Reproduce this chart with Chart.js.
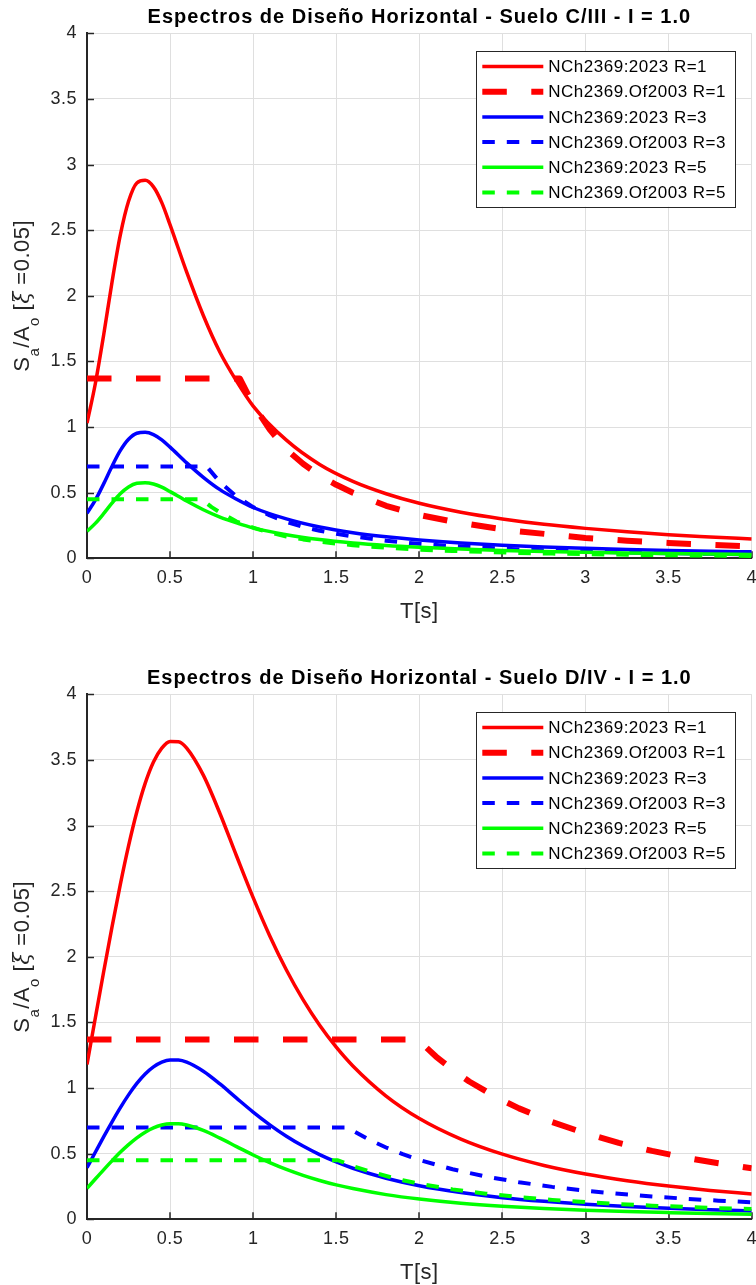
<!DOCTYPE html>
<html><head><meta charset="utf-8">
<script src="https://cdn.jsdelivr.net/npm/chart.js@4.4.0/dist/chart.umd.min.js"></script>
<style>
html,body{margin:0;padding:0;background:#fff;}
#wrap{position:relative;width:756px;height:1285px;overflow:hidden;}
.c{position:absolute;left:0;width:756px;}
#c1{top:0;height:661px;}
#c2{top:661px;height:624px;}
</style></head><body>
<div id="wrap"><div class="c" id="c1"><canvas id="chart1"></canvas></div><div class="c" id="c2"><canvas id="chart2"></canvas></div></div>
<script>
// ---------- DATA ----------
const TITLE_C = 'Espectros de Diseño Horizontal - Suelo C/III - I = 1.0';
const TITLE_D = 'Espectros de Diseño Horizontal - Suelo D/IV - I = 1.0';
const SERIES_LABELS = ['NCh2369:2023 R=1','NCh2369.Of2003 R=1','NCh2369:2023 R=3','NCh2369.Of2003 R=3','NCh2369:2023 R=5','NCh2369.Of2003 R=5'];
const AXIS_TICKS = [0,0.5,1,1.5,2,2.5,3,3.5,4];
const X_TITLE = 'T[s]';

// Suelo C/III — NCh2369:2023
const T_C_2023 = [0,0.05,0.1,0.15,0.2,0.25,0.3,0.35,0.4,0.45,0.5,0.6,0.7,0.8,0.9,1.0,1.2,1.4,1.6,1.8,2.0,2.25,2.5,2.75,3.0,3.25,3.5,3.75,4.0];
const C_2023_R1 = [1.03,1.33,1.70,2.10,2.46,2.72,2.86,2.88,2.83,2.71,2.54,2.18,1.85,1.57,1.35,1.16,0.90,0.715,0.586,0.492,0.419,0.351,0.30,0.259,0.228,0.202,0.180,0.163,0.147];
const C_2023_R3 = [0.343,0.443,0.567,0.70,0.82,0.907,0.953,0.96,0.943,0.903,0.847,0.727,0.617,0.523,0.45,0.387,0.30,0.238,0.195,0.164,0.14,0.117,0.10,0.086,0.076,0.067,0.06,0.054,0.049];
const C_2023_R5 = [0.206,0.266,0.34,0.42,0.492,0.544,0.572,0.576,0.566,0.542,0.508,0.436,0.37,0.314,0.27,0.232,0.18,0.143,0.117,0.098,0.084,0.07,0.06,0.052,0.046,0.04,0.036,0.033,0.029];
// Suelo C/III — NCh2369.Of2003
const T_C_OF_R1 = [0,0.5,0.92,1.0,1.1,1.2,1.3,1.4,1.5,1.6,1.8,2.0,2.2,2.4,2.6,2.8,3.0,3.25,3.5,3.75,4.0];
const C_OF_R1 = [1.37,1.37,1.37,1.17,0.98,0.83,0.72,0.63,0.56,0.50,0.40,0.33,0.28,0.24,0.205,0.18,0.155,0.134,0.117,0.103,0.091];
const T_C_OF_R3 = [0,0.5,0.72,0.8,0.9,1.0,1.1,1.2,1.3,1.4,1.5,1.6,1.8,2.0,2.2,2.4,2.6,2.8,3.0,3.25,3.5,3.75,4.0];
const C_OF_R3 = [0.70,0.70,0.70,0.58,0.47,0.39,0.327,0.277,0.24,0.21,0.187,0.167,0.134,0.11,0.093,0.08,0.068,0.06,0.052,0.045,0.039,0.034,0.030];
const T_C_OF_R5 = [0,0.5,0.69,0.75,0.8,0.9,1.0,1.1,1.2,1.3,1.4,1.5,1.6,1.8,2.0,2.2,2.4,2.6,2.8,3.0,3.25,3.5,3.75,4.0];
const C_OF_R5 = [0.45,0.45,0.45,0.39,0.35,0.28,0.233,0.196,0.166,0.144,0.126,0.112,0.10,0.08,0.066,0.056,0.048,0.041,0.036,0.031,0.027,0.023,0.021,0.018];

// Suelo D/IV — NCh2369:2023
const T_D_2023 = [0,0.05,0.1,0.15,0.2,0.25,0.3,0.35,0.4,0.45,0.5,0.55,0.6,0.7,0.8,0.9,1.0,1.1,1.2,1.3,1.4,1.5,1.6,1.8,2.0,2.25,2.5,2.75,3.0,3.25,3.5,3.75,4.0];
const D_2023_R1 = [1.18,1.534,1.884,2.224,2.548,2.845,3.105,3.321,3.484,3.59,3.641,3.639,3.59,3.384,3.092,2.768,2.451,2.159,1.899,1.673,1.478,1.311,1.168,0.939,0.768,0.611,0.496,0.41,0.345,0.294,0.253,0.22,0.193];
const D_2023_R3 = [0.393,0.511,0.628,0.741,0.849,0.948,1.035,1.107,1.161,1.197,1.214,1.213,1.197,1.128,1.031,0.923,0.817,0.72,0.633,0.558,0.493,0.437,0.389,0.313,0.256,0.204,0.165,0.137,0.115,0.098,0.084,0.073,0.064];
const D_2023_R5 = [0.236,0.307,0.377,0.445,0.51,0.569,0.621,0.664,0.697,0.718,0.728,0.728,0.718,0.677,0.618,0.554,0.49,0.432,0.38,0.335,0.296,0.262,0.234,0.188,0.154,0.122,0.099,0.082,0.069,0.059,0.051,0.044,0.039];
// Suelo D/IV — NCh2369.Of2003
const T_D_OF_R1 = [0,1.0,1.99,2.1,2.2,2.3,2.4,2.5,2.6,2.8,3.0,3.2,3.4,3.6,3.8,4.0];
const D_OF_R1 = [1.37,1.37,1.37,1.24,1.14,1.05,0.976,0.907,0.845,0.74,0.655,0.582,0.521,0.47,0.427,0.389];
const T_D_OF_R3 = [0,1.0,1.57,1.6,1.7,1.8,1.9,2.0,2.2,2.4,2.6,2.8,3.0,3.2,3.4,3.6,3.8,4.0];
const D_OF_R3 = [0.70,0.70,0.70,0.675,0.605,0.547,0.496,0.452,0.381,0.326,0.282,0.247,0.218,0.194,0.174,0.157,0.142,0.130];
const T_D_OF_R5 = [0,1.0,1.51,1.6,1.7,1.8,1.9,2.0,2.2,2.4,2.6,2.8,3.0,3.2,3.4,3.6,3.8,4.0];
const D_OF_R5 = [0.45,0.45,0.45,0.405,0.365,0.33,0.297,0.271,0.228,0.195,0.169,0.148,0.131,0.116,0.104,0.094,0.085,0.078];

// ---------- STYLE ----------
const FONT = '"Liberation Sans", Arial, Helvetica, sans-serif';
const AX = '#262626';
const STYLES = [
  {c:'#ff0000', w:3.5, d:[]},
  {c:'#ff0000', w:6,   d:[24.5,24.5]},
  {c:'#0000ff', w:3.5, d:[]},
  {c:'#0000ff', w:4,   d:[12.5,12]},
  {c:'#00ff00', w:3.5, d:[]},
  {c:'#00ff00', w:4,   d:[12.5,12]}
];

const pts = (xs, ys) => xs.map((x, i) => ({x: x, y: ys[i]}));

const matlabPlugin = {
  id: 'matlab',
  beforeDraw(chart) {
    chart.ctx.letterSpacing = '0.5px';
  },
  beforeDatasetsDraw(chart) {
    const {ctx, chartArea: a, scales: {x, y}} = chart;
    ctx.save();
    ctx.strokeStyle = AX; ctx.lineWidth = 1.5; ctx.setLineDash([]);
    y.ticks.forEach(t => {
      const py = Math.round(y.getPixelForValue(t.value)) + 0.5;
      ctx.beginPath(); ctx.moveTo(a.left, py); ctx.lineTo(a.left + 7, py); ctx.stroke();
    });
    x.ticks.forEach(t => {
      const px = Math.round(x.getPixelForValue(t.value));
      ctx.beginPath(); ctx.moveTo(px, a.bottom); ctx.lineTo(px, a.bottom - 7); ctx.stroke();
    });
    ctx.restore();
  },
  afterDraw(chart, args, opts) {
    const {ctx, chartArea: a} = chart;
    ctx.save();
    // Title
    ctx.letterSpacing = '1px';
    ctx.fillStyle = '#000';
    ctx.font = 'bold 20px ' + FONT;
    ctx.textAlign = 'center'; ctx.textBaseline = 'alphabetic';
    ctx.fillText(opts.title, (a.left + a.right) / 2, 23.3);
    // X title
    ctx.letterSpacing = '0.5px';
    ctx.fillStyle = AX;
    ctx.font = '22px ' + FONT;
    ctx.fillText(X_TITLE, (a.left + a.right) / 2, a.bottom + 60);
    // Y title with subscripts
    const segs = [
      {t:'S', f:'22px ' + FONT, dy:0},
      {t:'a', f:'15px ' + FONT, dy:10},
      {t:'/A', f:'22px ' + FONT, dy:0},
      {t:'o', f:'15px ' + FONT, dy:10},
      {t:' [', f:'22px ' + FONT, dy:0},
      {t:'ξ', f:'italic 22px "DejaVu Serif", serif', dy:0},
      {t:' =0.05]', f:'22px ' + FONT, dy:0}
    ];
    let total = 0;
    segs.forEach(s => { ctx.font = s.f; s.w = ctx.measureText(s.t).width; total += s.w; });
    ctx.translate(28.5, (a.top + a.bottom) / 2);
    ctx.rotate(-Math.PI / 2);
    ctx.textAlign = 'left';
    let u = -total / 2;
    segs.forEach(s => { ctx.font = s.f; ctx.fillText(s.t, u, s.dy); u += s.w; });
    ctx.restore();

    // Legend box
    ctx.save();
    ctx.letterSpacing = '0.5px';
    const ds = chart.data.datasets;
    ctx.font = '17px ' + FONT;
    let maxW = 0;
    ds.forEach(d => { maxW = Math.max(maxW, ctx.measureText(d.label).width); });
    const lineLen = 61, padL = 6.3, gap = 5, padR = 9, rowH = 25.2;
    const boxW = padL + lineLen + gap + maxW + padR;
    const boxH = 155.7;
    const bx = a.right - 16.7 - boxW, by = a.top + 17.7;
    ctx.fillStyle = '#fff';
    ctx.fillRect(bx, by, boxW, boxH);
    ctx.strokeStyle = AX; ctx.lineWidth = 1;
    ctx.strokeRect(Math.round(bx) + 0.5, Math.round(by) + 0.5, Math.round(boxW), Math.round(boxH));
    ds.forEach((d, i) => {
      const cy = by + 15.5 + i * rowH;
      ctx.strokeStyle = d.borderColor; ctx.lineWidth = d.borderWidth;
      ctx.setLineDash(d.borderDash || []); ctx.lineCap = 'butt';
      ctx.beginPath(); ctx.moveTo(bx + padL, cy); ctx.lineTo(bx + padL + lineLen, cy); ctx.stroke();
      ctx.setLineDash([]);
      ctx.fillStyle = '#000'; ctx.textAlign = 'left'; ctx.textBaseline = 'middle';
      ctx.fillText(d.label, bx + padL + lineLen + gap, cy + 1);
    });
    ctx.restore();
  }
};

function fixPad(s) { s.paddingLeft = 0; s.paddingRight = 0; s.paddingTop = 0; s.paddingBottom = 0; }

function makeChart(id, title, canvasH, series) {
  const datasets = series.map((s, i) => ({
    label: SERIES_LABELS[i],
    data: pts(s[0], s[1]),
    borderColor: STYLES[i].c,
    borderWidth: STYLES[i].w,
    borderDash: STYLES[i].d,
    borderCapStyle: 'butt',
    borderJoinStyle: 'round',
    pointRadius: 0,
    fill: false,
    order: 6 - i,
    tension: 0,
    cubicInterpolationMode: (i % 2 === 0) ? 'monotone' : 'default'
  }));
  const tickFont = {family: FONT, size: 18};
  return new Chart(document.getElementById(id), {
    type: 'line',
    data: {datasets},
    plugins: [matlabPlugin],
    options: {
      responsive: true, maintainAspectRatio: false, animation: false, devicePixelRatio: 1,
      layout: {padding: {top: 33.3, left: 0, right: 4.3, bottom: canvasH - 558.3 - 60}},
      plugins: {legend: {display: false}, tooltip: {enabled: false}, title: {display: false}, matlab: {title}},
      scales: {
        x: {
          type: 'linear', min: 0, max: 4,
          afterBuildTicks: s => { s.ticks = AXIS_TICKS.map(v => ({value: v})); },
          afterFit: s => { s.height = 60; fixPad(s); },
          ticks: {color: AX, font: tickFont, padding: 9, maxRotation: 0, autoSkip: false, callback: v => String(v)},
          grid: {color: '#dfdfdf', lineWidth: 1, drawTicks: false},
          border: {display: true, color: AX, width: 2}
        },
        y: {
          type: 'linear', min: 0, max: 4,
          afterBuildTicks: s => { s.ticks = AXIS_TICKS.map(v => ({value: v})); },
          afterFit: s => { s.width = 87; fixPad(s); },
          ticks: {color: AX, font: tickFont, padding: 10, autoSkip: false, callback: v => String(v)},
          grid: {color: '#dfdfdf', lineWidth: 1, drawTicks: false},
          border: {display: true, color: AX, width: 2}
        }
      }
    }
  });
}

makeChart('chart1', TITLE_C, 661, [
  [T_C_2023, C_2023_R1], [T_C_OF_R1, C_OF_R1],
  [T_C_2023, C_2023_R3], [T_C_OF_R3, C_OF_R3],
  [T_C_2023, C_2023_R5], [T_C_OF_R5, C_OF_R5]
]);
makeChart('chart2', TITLE_D, 624, [
  [T_D_2023, D_2023_R1], [T_D_OF_R1, D_OF_R1],
  [T_D_2023, D_2023_R3], [T_D_OF_R3, D_OF_R3],
  [T_D_2023, D_2023_R5], [T_D_OF_R5, D_OF_R5]
]);
</script>
</body></html>
